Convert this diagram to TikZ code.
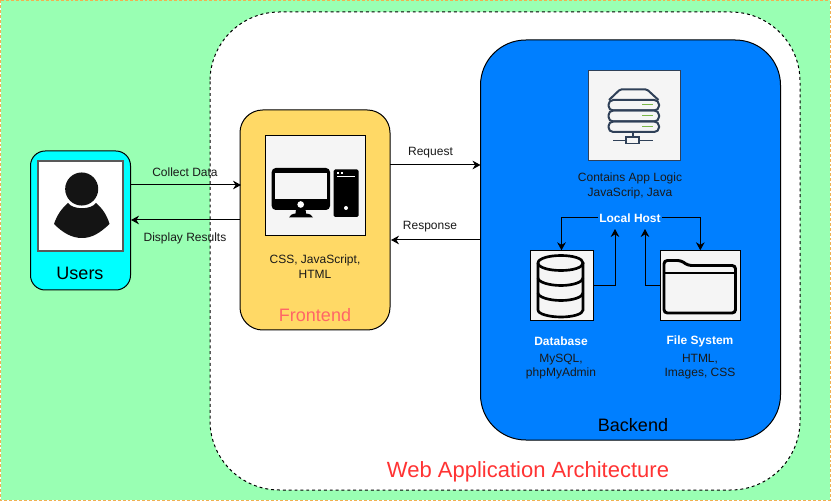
\documentclass[tikz,border=0pt]{standalone}
\usepackage{fontspec}
\setmainfont{Liberation Sans}
\usetikzlibrary{arrows.meta}
\definecolor{pagegreen}{HTML}{99FFB3}
\definecolor{pageorange}{HTML}{F0B050}
\definecolor{userfill}{HTML}{00FFFF}
\definecolor{frontfill}{HTML}{FFD966}
\definecolor{frontred}{HTML}{FF6666}
\definecolor{backblue}{HTML}{007FFF}
\definecolor{iconbg}{HTML}{F5F5F5}
\definecolor{iconink}{HTML}{141414}
\definecolor{srvink}{HTML}{2F4058}
\definecolor{srvgreen}{HTML}{7AB648}
\definecolor{webred}{HTML}{FF3333}
\tikzset{
  panel/.style={draw=black,line width=.75pt,outer sep=0pt,inner sep=0pt},
  iconbox/.style={draw=black,line width=.75pt,fill=iconbg,outer sep=0pt,inner sep=0pt},
  small/.style={font=\fontsize{9}{11}\selectfont,align=center,inner sep=0pt,text=black!90},
  smallbold/.style={font=\fontsize{9}{11}\selectfont\bfseries,align=center,text=white},
  big/.style={font=\fontsize{13.5}{16}\selectfont,inner sep=0pt},
  conn/.style={draw=black,line width=.75pt,-{Stealth[length=6pt,width=6.5pt]}},
  srv/.style={draw=srvink,line width=1.5pt,rounded corners=3.5pt},
  ink/.style={draw=black,line width=2pt},
}
\begin{document}
\begin{tikzpicture}[x=.75pt,y=-.75pt]
\useasboundingbox (0,0) rectangle (832,502);
\fill[white] (0,0) rectangle (832,502);
\draw[fill=pagegreen,draw=pageorange,line width=.75pt,dash pattern=on 2.2pt off 1.5pt] (.5,.5) rectangle (830,500);
% web application panel
\draw[fill=white,draw=black,line width=.75pt,dash pattern=on 2.2pt off 2.2pt,rounded corners=52pt] (210,12) rectangle (800,490);
\node[font=\fontsize{16.5}{20}\selectfont,text=webred,inner sep=0pt] (webt) at (528,471.5) {Web Application Architecture};

% users
\node[panel,fill=userfill,minimum width=75pt,minimum height=104.25pt,rounded corners=11pt] (users) at (80.5,220.5) {};
\node[draw=black!65,line width=1pt,fill=white,minimum width=63.75pt,minimum height=67.5pt,inner sep=0pt,outer sep=0pt] (usericon) at (80.5,206) {};
\fill[iconink] (81.7,189) circle[radius=12.4pt];
\fill[iconink] (54,224) .. controls (57,215) and (62,208) .. (68,203) .. controls (73,210) and (91,210) .. (96,203) .. controls (102,208) and (107,215) .. (109.5,224) .. controls (100,233) and (92,238) .. (82,238) .. controls (72,238) and (63,233) .. (54,224) -- cycle;
\node[big] (userst) at (80,273) {Users};

% frontend
\node[panel,fill=frontfill,minimum width=112.5pt,minimum height=165pt,rounded corners=17pt] (front) at (315,220) {};
\node[iconbox,minimum width=75pt,minimum height=75pt] (fronticon) at (315.3,185.3) {};
\fill[black,rounded corners=3pt] (271.7,168) rectangle (330,210);
\fill[iconbg] (275,172.7) rectangle (327,198.7);
\fill[white] (300.7,204.5) circle[radius=2.5pt];
\fill[black] (296,209) -- (305.5,209) -- (306,213.5) .. controls (310,214) and (312,215) .. (313,217.5) -- (289,217.5) .. controls (290,215) and (292,214) .. (295.5,213.5) -- cycle;
\fill[black,rounded corners=1pt] (333.7,169.5) rectangle (358.5,217);
\draw[white,line width=.75pt] (337,177) -- (355,177);
\fill[white] (337,172) rectangle (339,174);
\fill[white] (340.5,172) rectangle (342.5,174);
\fill[white] (346,208) circle[radius=1.5pt];
\node[small] (frontt) at (315,266.5) {CSS, JavaScript,\\HTML};
\node[big,text=frontred] (frontl) at (315,315.5) {Frontend};

% backend
\node[panel,fill=backblue,minimum width=225pt,minimum height=300pt,rounded corners=34pt] (back) at (630.5,240) {};
\node[big] (backl) at (633,425) {Backend};

% server
\node[iconbox,draw=srvink,minimum width=69pt,minimum height=67.5pt] (srvicon) at (634,116) {};
\draw[srv,rounded corners=1pt] (609,100) -- (620,89.5) -- (647,89.5) -- (658.5,100);
\draw[srv] (608.5,100) rectangle (659,110.5);
\draw[srv] (608.5,110.5) rectangle (659,121.5);
\draw[srv] (608.5,121.5) rectangle (659,132);
\draw[srvgreen,line width=1.2pt] (642,104.7) -- (653,104.7) (642,115.5) -- (653,115.5) (642,126.5) -- (653,126.5);
\draw[srvink,line width=1.2pt] (633,132) -- (633,137) (613,140.5) -- (626,140.5) (639,140.5) -- (653,140.5);
\draw[srvink,line width=1.2pt] (626,137) rectangle (639,143.5);
\node[small] (srvt) at (630,186) {Contains App Logic\\JavaScrip, Java};
\node[smallbold,inner sep=1pt] (lh) at (630,218) {Local Host};

% database
\node[iconbox,minimum width=47.25pt,minimum height=52.5pt] (db) at (561.5,285.3) {};
\draw[ink] (561,255.5) .. controls (573,255.5) and (583,258.5) .. (583,263) .. controls (583,267.5) and (573,270.5) .. (561,270.5) .. controls (549,270.5) and (538,267.5) .. (538,263) .. controls (538,258.5) and (549,255.5) .. (561,255.5) -- cycle;
\draw[ink] (538,263) -- (538,310) .. controls (538,314) and (549,317) .. (561,317) .. controls (573,317) and (583,314) .. (583,310) -- (583,263);
\draw[ink] (538,278) .. controls (538,282) and (549,285.5) .. (561,285.5) .. controls (573,285.5) and (583,282) .. (583,278);
\draw[ink] (538,293) .. controls (538,297) and (549,300.5) .. (561,300.5) .. controls (573,300.5) and (583,297) .. (583,293);
\node[smallbold,inner sep=0pt] (dbt) at (561,341) {Database};
\node[small] (dbs) at (561,366.5) {MySQL,\\phpMyAdmin};

% file system
\node[iconbox,minimum width=60pt,minimum height=52.5pt] (fs) at (700.3,285.3) {};
\draw[ink,line width=2.2pt,rounded corners=2.5pt] (664,273) -- (664,260.5) -- (681,260.5) -- (688,265.5) -- (735.5,265.5) -- (735.5,313) -- (664,313) -- cycle;
\draw[ink,line width=2.2pt] (664,273) -- (735.5,273);
\node[smallbold,inner sep=0pt] (fst) at (700,341) {File System};
\node[small] (fss) at (700,366.5) {HTML,\\Images, CSS};

% connectors
\coordinate (usersout) at (130.5,185);
\coordinate (frontin) at (241,185);
\coordinate (frontout) at (240,220);
\coordinate (usersin) at (131,220);
\coordinate (reqa) at (390,165);
\coordinate (reqb) at (480.5,165);
\coordinate (respa) at (480,240);
\coordinate (respb) at (391,240);
\coordinate (dbin) at (615,229);
\coordinate (fsin) at (645,229);
\draw[conn] (usersout) -- (frontin);
\draw[conn] (frontout) -- (usersin);
\draw[conn] (reqa) -- (reqb);
\draw[conn] (respa) -- (respb);
\draw[conn] (lh.west) -| (db.north);
\draw[conn] (lh.east) -| (fs.north);
\draw[conn] (db.east) -| (dbin);
\draw[conn] (fs.west) -| (fsin);
\node[small] (coll) at (185,172.5) {Collect Data};
\node[small] (disp) at (185,238.5) {Display Results};
\node[small] (req) at (430.5,152.5) {Request};
\node[small] (resp) at (430,226.5) {Response};
\end{tikzpicture}
\end{document}
